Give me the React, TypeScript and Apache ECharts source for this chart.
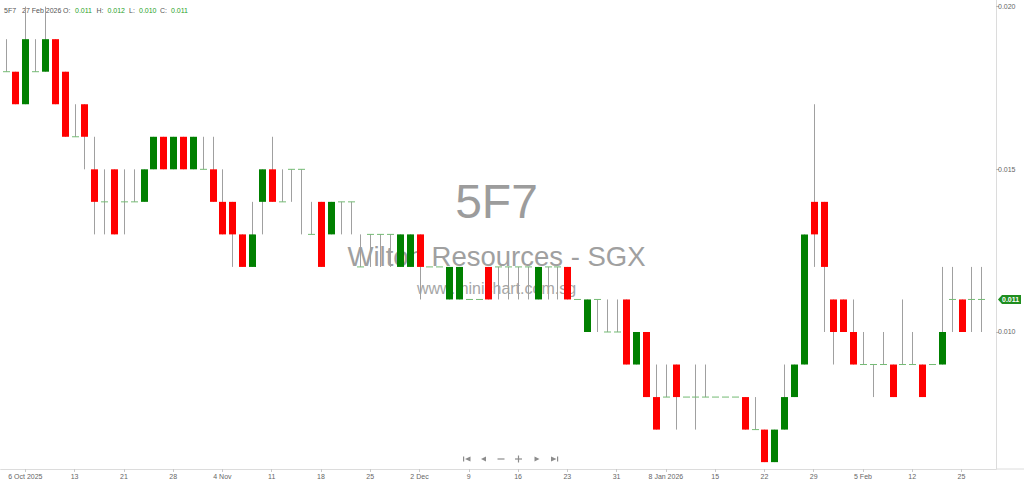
import React, { useEffect, useRef } from "react";
import * as echarts from "echarts";

// Daily prices for 5F7 (SGX), 2 Oct 2025 – 27 Feb 2026
const tradeDates = [
  "2025-10-02", "2025-10-03", "2025-10-06", "2025-10-07", "2025-10-08", "2025-10-09", "2025-10-10",
  "2025-10-13", "2025-10-14", "2025-10-15", "2025-10-16", "2025-10-17", "2025-10-21", "2025-10-22",
  "2025-10-23", "2025-10-24", "2025-10-27", "2025-10-28", "2025-10-29", "2025-10-30", "2025-10-31",
  "2025-11-03", "2025-11-04", "2025-11-05", "2025-11-06", "2025-11-07", "2025-11-10", "2025-11-11",
  "2025-11-12", "2025-11-13", "2025-11-14", "2025-11-17", "2025-11-18", "2025-11-19", "2025-11-20",
  "2025-11-21", "2025-11-24", "2025-11-25", "2025-11-26", "2025-11-27", "2025-11-28", "2025-12-01",
  "2025-12-02", "2025-12-03", "2025-12-04", "2025-12-05", "2025-12-08", "2025-12-09", "2025-12-10",
  "2025-12-11", "2025-12-12", "2025-12-15", "2025-12-16", "2025-12-17", "2025-12-18", "2025-12-19",
  "2025-12-22", "2025-12-23", "2025-12-24", "2025-12-26", "2025-12-29", "2025-12-30", "2025-12-31",
  "2026-01-02", "2026-01-05", "2026-01-06", "2026-01-07", "2026-01-08", "2026-01-09", "2026-01-12",
  "2026-01-13", "2026-01-14", "2026-01-15", "2026-01-16", "2026-01-19", "2026-01-20", "2026-01-21",
  "2026-01-22", "2026-01-23", "2026-01-26", "2026-01-27", "2026-01-28", "2026-01-29", "2026-01-30",
  "2026-02-02", "2026-02-03", "2026-02-04", "2026-02-05", "2026-02-06", "2026-02-09", "2026-02-10",
  "2026-02-11", "2026-02-12", "2026-02-13", "2026-02-16", "2026-02-23", "2026-02-24", "2026-02-25",
  "2026-02-26", "2026-02-27",
];

const openPrices = [
  0.018, 0.018, 0.017, 0.018, 0.018, 0.019, 0.018, 0.016, 0.017, 0.015,
  0.014, 0.015, 0.014, 0.014, 0.014, 0.015, 0.016, 0.015, 0.016, 0.015,
  0.015, 0.015, 0.014, 0.014, 0.013, 0.012, 0.014, 0.015, 0.014, 0.015,
  0.015, 0.013, 0.014, 0.013, 0.014, 0.014, 0.012, 0.013, 0.013, 0.013,
  0.012, 0.012, 0.013, 0.012, 0.012, 0.011, 0.011, 0.011, 0.011, 0.012,
  0.012, 0.012, 0.012, 0.012, 0.011, 0.012, 0.012, 0.012, 0.011, 0.010,
  0.011, 0.010, 0.010, 0.011, 0.009, 0.010, 0.008, 0.008, 0.009, 0.008,
  0.008, 0.008, 0.008, 0.008, 0.008, 0.008, 0.007, 0.007, 0.006, 0.007,
  0.008, 0.009, 0.014, 0.014, 0.011, 0.011, 0.010, 0.009, 0.009, 0.009,
  0.009, 0.009, 0.009, 0.009, 0.009, 0.009, 0.011, 0.011, 0.011, 0.011,
];

const highPrices = [
  0.019, 0.018, 0.020, 0.019, 0.020, 0.019, 0.018, 0.017, 0.017, 0.016,
  0.015, 0.015, 0.015, 0.015, 0.015, 0.016, 0.016, 0.016, 0.016, 0.016,
  0.016, 0.016, 0.015, 0.014, 0.013, 0.014, 0.015, 0.016, 0.015, 0.015,
  0.015, 0.014, 0.014, 0.014, 0.014, 0.014, 0.013, 0.013, 0.013, 0.013,
  0.013, 0.013, 0.013, 0.012, 0.012, 0.012, 0.012, 0.011, 0.011, 0.012,
  0.012, 0.012, 0.012, 0.012, 0.012, 0.012, 0.012, 0.012, 0.011, 0.011,
  0.011, 0.011, 0.011, 0.011, 0.010, 0.010, 0.009, 0.009, 0.009, 0.008,
  0.009, 0.009, 0.008, 0.008, 0.008, 0.008, 0.008, 0.007, 0.007, 0.009,
  0.009, 0.013, 0.017, 0.014, 0.011, 0.011, 0.011, 0.010, 0.009, 0.010,
  0.009, 0.011, 0.010, 0.009, 0.009, 0.012, 0.012, 0.011, 0.012, 0.012,
];

const lowPrices = [
  0.018, 0.017, 0.017, 0.018, 0.018, 0.017, 0.016, 0.016, 0.015, 0.013,
  0.013, 0.013, 0.013, 0.014, 0.014, 0.015, 0.015, 0.015, 0.015, 0.015,
  0.015, 0.014, 0.013, 0.012, 0.012, 0.012, 0.013, 0.014, 0.014, 0.014,
  0.013, 0.013, 0.012, 0.013, 0.013, 0.013, 0.012, 0.012, 0.012, 0.012,
  0.012, 0.012, 0.011, 0.012, 0.012, 0.011, 0.011, 0.011, 0.011, 0.011,
  0.011, 0.011, 0.011, 0.011, 0.011, 0.011, 0.011, 0.011, 0.011, 0.010,
  0.010, 0.010, 0.010, 0.009, 0.009, 0.008, 0.007, 0.008, 0.007, 0.008,
  0.007, 0.008, 0.008, 0.008, 0.008, 0.007, 0.007, 0.006, 0.006, 0.007,
  0.008, 0.009, 0.012, 0.010, 0.009, 0.010, 0.009, 0.009, 0.008, 0.009,
  0.008, 0.009, 0.009, 0.008, 0.009, 0.009, 0.010, 0.010, 0.010, 0.010,
];

const closePrices = [
  0.018, 0.017, 0.019, 0.018, 0.019, 0.017, 0.016, 0.016, 0.016, 0.014,
  0.014, 0.013, 0.014, 0.014, 0.015, 0.016, 0.015, 0.016, 0.015, 0.016,
  0.015, 0.014, 0.013, 0.013, 0.012, 0.013, 0.015, 0.014, 0.014, 0.015,
  0.015, 0.013, 0.012, 0.014, 0.014, 0.014, 0.012, 0.013, 0.013, 0.013,
  0.013, 0.013, 0.012, 0.012, 0.012, 0.012, 0.012, 0.011, 0.011, 0.011,
  0.012, 0.012, 0.012, 0.012, 0.012, 0.012, 0.012, 0.011, 0.011, 0.011,
  0.011, 0.010, 0.010, 0.009, 0.010, 0.008, 0.007, 0.008, 0.008, 0.008,
  0.008, 0.008, 0.008, 0.008, 0.008, 0.007, 0.007, 0.006, 0.007, 0.008,
  0.009, 0.013, 0.013, 0.012, 0.010, 0.010, 0.009, 0.009, 0.009, 0.009,
  0.008, 0.009, 0.009, 0.008, 0.009, 0.010, 0.011, 0.010, 0.011, 0.011,
];

const priceTicks = [0.01, 0.015, 0.02];
const stockCode = "5F7";
const companyName = "Wilton Resources - SGX";
const siteName = "www.minichart.com.sg";
const monthNames = ["Jan", "Feb", "Mar", "Apr", "May", "Jun", "Jul", "Aug", "Sep", "Oct", "Nov", "Dec"];

// a date label every fifth session, starting with the first Monday shown
const TICK_OFFSET = 2;
const TICK_STEP = 5;

const UP = "#008000";
const DOWN = "#ff0000";
const WICK = "#a0a0a0";
const DOJI = "#74bb74";
const FONT = "'Liberation Sans', Arial, sans-serif";

function isTick(i: number) {
  return i >= TICK_OFFSET && i < tradeDates.length && (i - TICK_OFFSET) % TICK_STEP === 0;
}

function buildTickLabels(): string[] {
  const labels: string[] = tradeDates.map(() => "");
  let prevY = -1;
  let prevM = -1;
  tradeDates.forEach((d, i) => {
    if (!isTick(i)) return;
    const [y, m, day] = d.split("-").map(Number);
    let s = String(day);
    if (y !== prevY) s = `${day} ${monthNames[m - 1]} ${y}`;
    else if (m !== prevM) s = `${day} ${monthNames[m - 1]}`;
    labels[i] = s;
    prevY = y;
    prevM = m;
  });
  return labels;
}

function formatHeaderDate(d: string) {
  const [y, m, day] = d.split("-").map(Number);
  return `${day} ${monthNames[m - 1]} ${y}`;
}

export default function App() {
  const ref = useRef<HTMLDivElement>(null);

  useEffect(() => {
    if (!ref.current) return;
    const chart = echarts.init(ref.current, undefined, { renderer: "svg" });
    const tickLabels = buildTickLabels();
    // one spare slot after the last session keeps a gap before the price axis
    const categories = [...tickLabels, ""];
    const candles = tradeDates.map((_, i) => [i, openPrices[i], closePrices[i], lowPrices[i], highPrices[i]]);

    const renderCandle = (_params: any, api: any) => {
      const i = api.value(0);
      const o = api.value(1);
      const c = api.value(2);
      const l = api.value(3);
      const h = api.value(4);
      const pO = api.coord([i, o]);
      const yC = api.coord([i, c])[1];
      const yL = api.coord([i, l])[1];
      const yH = api.coord([i, h])[1];
      const cx = Math.round(pO[0]);
      const children: any[] = [];
      if (yL - yH > 0.5) {
        children.push({
          type: "line",
          shape: { x1: cx + 0.5, y1: yH, x2: cx + 0.5, y2: yL },
          style: { stroke: WICK, lineWidth: 1 },
        });
      }
      if (c === o) {
        children.push({
          type: "line",
          shape: { x1: cx - 3, y1: yC, x2: cx + 4, y2: yC },
          style: { stroke: DOJI, lineWidth: 1 },
        });
      } else {
        children.push({
          type: "rect",
          shape: { x: cx - 3, y: Math.min(pO[1], yC), width: 7, height: Math.abs(yC - pO[1]) },
          style: { fill: c > o ? UP : DOWN },
        });
      }
      return { type: "group", children };
    };

    const last = tradeDates.length - 1;
    const headerGray = "#555";
    const headerGreen = "#27a127";
    const headerItems: [string, number, string][] = [
      [stockCode, 4, headerGray],
      [formatHeaderDate(tradeDates[last]), 22, headerGray],
      ["O:", 63, headerGray],
      [openPrices[last].toFixed(3), 75, headerGreen],
      ["H:", 96.5, headerGray],
      [highPrices[last].toFixed(3), 107.5, headerGreen],
      ["L:", 129, headerGray],
      [lowPrices[last].toFixed(3), 139, headerGreen],
      ["C:", 160, headerGray],
      [closePrices[last].toFixed(3), 171, headerGreen],
    ];

    const navColor = "#8c8c8c";
    const navY = 459;

    chart.setOption({
      animation: false,
      grid: { left: 0.7, right: 28, top: 0, bottom: 15 },
      xAxis: {
        type: "category",
        data: categories,
        boundaryGap: true,
        axisLine: { show: true, lineStyle: { color: "#dcdcdc", width: 1 } },
        axisTick: {
          show: true,
          alignWithLabel: true,
          interval: (i: number) => isTick(i),
          length: 3,
          lineStyle: { color: "#c8c8c8" },
        },
        axisLabel: {
          interval: (i: number) => isTick(i),
          fontSize: 7,
          fontFamily: FONT,
          color: "#666",
          margin: 4,
        },
        splitLine: { show: false },
      },
      yAxis: {
        type: "value",
        position: "right",
        min: 0.005789,
        max: 0.020204,
        scale: true,
        axisLine: { show: true, lineStyle: { color: "#dcdcdc", width: 1 } },
        axisTick: { show: true, length: 3, customValues: priceTicks, lineStyle: { color: "#bbb" } },
        axisLabel: {
          customValues: priceTicks,
          formatter: (v: number) => v.toFixed(3),
          fontSize: 7,
          fontFamily: FONT,
          color: "#666",
          margin: 2,
        },
        splitLine: { show: false },
      },
      series: [
        {
          type: "custom",
          renderItem: renderCandle,
          data: candles,
          encode: { x: 0, y: [1, 2, 3, 4] },
          z: 5,
        },
      ],
    });

    const tagY = chart.convertToPixel({ yAxisIndex: 0 }, closePrices[last]) as number;
    const tagX = 998;
    const axisY = chart.convertToPixel({ yAxisIndex: 0 }, 0.005789) as number;

    chart.setOption({
      graphic: [
        // watermark
        {
          type: "text", z: 0, silent: true, x: 496.5, y: 201,
          style: { text: stockCode, font: `48px ${FONT}`, fill: "#9c9c9c", align: "center", verticalAlign: "middle" },
        },
        {
          type: "text", z: 0, silent: true, x: 496.5, y: 256,
          style: { text: companyName, font: `27.5px ${FONT}`, fill: "#a0a0a0", align: "center", verticalAlign: "middle" },
        },
        {
          type: "text", z: 0, silent: true, x: 496.5, y: 288,
          style: { text: siteName, font: `16px ${FONT}`, fill: "#a6a6a6", align: "center", verticalAlign: "middle" },
        },
        // quote header
        ...headerItems.map(([t, x, color]) => ({
          type: "text", z: 1, silent: true, x, y: 10.5,
          style: { text: t, font: `7px ${FONT}`, fill: color, align: "left", verticalAlign: "middle" },
        })),
        // date axis line carried on under the price scale
        {
          type: "line", z: 1, silent: true,
          shape: { x1: 996, y1: axisY, x2: 1024, y2: axisY },
          style: { stroke: "#dcdcdc", lineWidth: 1 },
        },
        // last price tag
        {
          type: "polygon", z: 10, silent: true,
          shape: { points: [[tagX, tagY], [tagX + 4, tagY - 4.5], [1021, tagY - 4.5], [1021, tagY + 4.5], [tagX + 4, tagY + 4.5]] },
          style: { fill: "#1f8e1f" },
        },
        {
          type: "text", z: 11, silent: true, x: tagX + 4, y: tagY,
          style: { text: closePrices[last].toFixed(3), font: `bold 7px ${FONT}`, fill: "#fff", align: "left", verticalAlign: "middle" },
        },
        // navigation buttons
        { type: "rect", z: 10, silent: true, shape: { x: 463, y: navY - 2.5, width: 1.2, height: 5 }, style: { fill: navColor } },
        { type: "polygon", z: 10, silent: true, shape: { points: [[470.5, navY - 2.5], [470.5, navY + 2.5], [465, navY]] }, style: { fill: navColor } },
        { type: "polygon", z: 10, silent: true, shape: { points: [[486, navY - 2.5], [486, navY + 2.5], [481, navY]] }, style: { fill: navColor } },
        { type: "rect", z: 10, silent: true, shape: { x: 497.5, y: navY - 0.6, width: 7, height: 1.2 }, style: { fill: navColor } },
        { type: "rect", z: 10, silent: true, shape: { x: 515, y: navY - 0.6, width: 7, height: 1.2 }, style: { fill: navColor } },
        { type: "rect", z: 10, silent: true, shape: { x: 517.9, y: navY - 3.5, width: 1.2, height: 7 }, style: { fill: navColor } },
        { type: "polygon", z: 10, silent: true, shape: { points: [[534.5, navY - 2.5], [534.5, navY + 2.5], [539.5, navY]] }, style: { fill: navColor } },
        { type: "polygon", z: 10, silent: true, shape: { points: [[551, navY - 2.5], [551, navY + 2.5], [556.5, navY]] }, style: { fill: navColor } },
        { type: "rect", z: 10, silent: true, shape: { x: 557, y: navY - 2.5, width: 1.2, height: 5 }, style: { fill: navColor } },
      ],
    });

    return () => chart.dispose();
  }, []);

  return (
    <div
      ref={ref}
      style={{ position: "fixed", left: 0, top: 0, width: 1024, height: 484, background: "#fff" }}
    />
  );
}
